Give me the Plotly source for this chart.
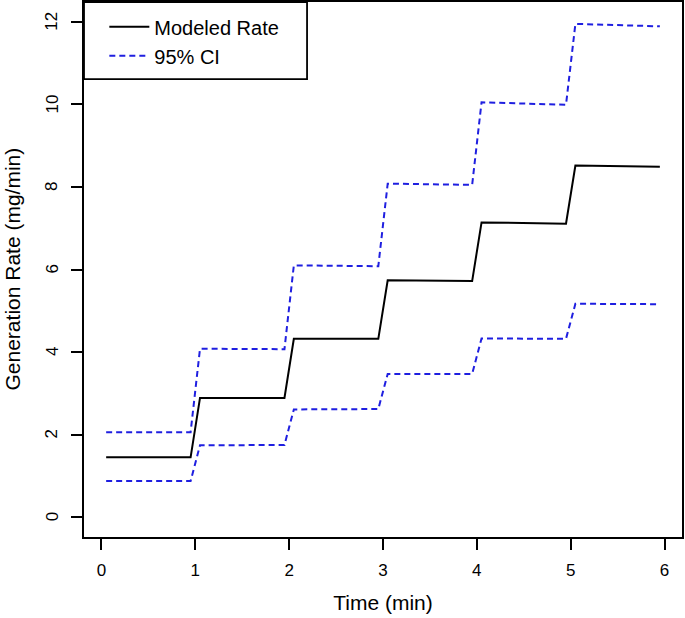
import plotly.graph_objects as go

# Data
time_min = [0.05, 0.95, 1.05, 1.95, 2.05, 2.95, 3.05, 3.95, 4.05, 4.95, 5.05, 5.95]
modeled_rate = [1.45, 1.45, 2.89, 2.89, 4.32, 4.32, 5.74, 5.72, 7.14, 7.11, 8.52, 8.49]
ci_upper = [2.06, 2.06, 4.08, 4.07, 6.10, 6.08, 8.08, 8.05, 10.05, 9.99, 11.95, 11.89]
ci_lower = [0.875, 0.875, 1.74, 1.75, 2.61, 2.62, 3.47, 3.47, 4.33, 4.32, 5.17, 5.16]
x_ticks = [0, 1, 2, 3, 4, 5, 6]
y_ticks = [0, 2, 4, 6, 8, 10, 12]

FONT = "Liberation Sans, Arial, sans-serif"
BLUE = "#1f1fe0"
PLOT_W = 598  # plot area width in px (685 - 84 - 3)

fig = go.Figure()
fig.add_trace(go.Scatter(x=time_min, y=modeled_rate, mode="lines", name="Modeled Rate",
                         line=dict(color="black", width=2)))
fig.add_trace(go.Scatter(x=time_min, y=ci_upper, mode="lines", name="95% CI",
                         line=dict(color=BLUE, width=2, dash="6px,4px")))
fig.add_trace(go.Scatter(x=time_min, y=ci_lower, mode="lines", name="95% CI lower",
                         showlegend=False,
                         line=dict(color=BLUE, width=2, dash="6px,4px")))

axis_common = dict(showline=True, linecolor="black", linewidth=1.8, mirror=True,
                   ticks="outside", ticklen=11, tickwidth=1.5, tickcolor="black",
                   showgrid=False, zeroline=False, automargin=False,
                   tickfont=dict(family=FONT, size=17, color="black"))

fig.update_xaxes(range=[-0.186, 6.186], tickvals=x_ticks, ticklabelstandoff=6,
                 title=dict(text="Time (min)", font=dict(family=FONT, size=21, color="black"),
                            standoff=16),
                 **axis_common)
fig.update_yaxes(range=[-0.48, 12.48], tickvals=y_ticks, showticklabels=False,
                 **axis_common)

# rotated y tick labels (R style, parallel to axis)
for v in y_ticks:
    fig.add_annotation(x=-32 / PLOT_W, xref="paper", y=v, yref="y", text=str(v),
                       textangle=-90, showarrow=False, xanchor="center", yanchor="middle",
                       font=dict(family=FONT, size=17, color="black"))
# y axis title
fig.add_annotation(x=-72 / PLOT_W, xref="paper", y=0.5, yref="paper",
                   text="Generation Rate (mg/min)", textangle=-90, showarrow=False,
                   xanchor="center", yanchor="middle",
                   font=dict(family=FONT, size=21, color="black"))

# legend frame
fig.add_shape(type="rect", xref="paper", yref="paper", x0=0, x1=0.373, y0=0.856, y1=1,
              line=dict(color="black", width=1.8), fillcolor="rgba(0,0,0,0)")

fig.update_layout(
    width=685, height=618,
    margin=dict(l=84, r=3, t=2, b=81, autoexpand=False),
    paper_bgcolor="white", plot_bgcolor="white",
    font=dict(family=FONT, color="black"),
    showlegend=True,
    legend=dict(x=0.034, y=0.99, xanchor="left", yanchor="top",
                bgcolor="rgba(0,0,0,0)", borderwidth=0,
                font=dict(family=FONT, size=20, color="black"),
                tracegroupgap=0, itemwidth=40),
)

fig.write_html("out.html", config={"displayModeBar": False},
               post_script="document.body.style.margin='0px';document.body.style.padding='0px';")
